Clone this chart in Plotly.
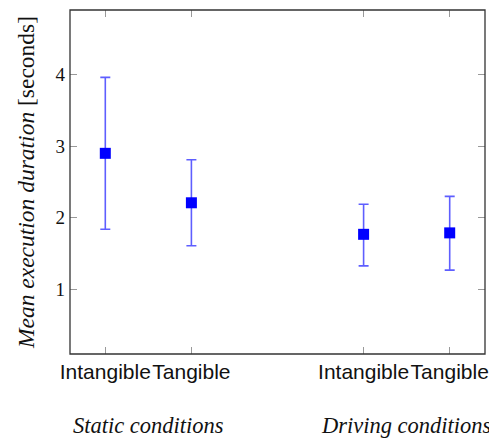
import plotly.graph_objects as go

positions = [1, 2, 4, 5]
tick_labels = ["Intangible", "Tangible", "Intangible", "Tangible"]
means = [2.90, 2.21, 1.77, 1.79]
upper = [3.96, 2.81, 2.19, 2.30]
lower = [1.84, 1.61, 1.33, 1.27]
group_labels = ["Static conditions", "Driving conditions"]
group_centers = [1.5, 4.5]

err_plus = [u - m for u, m in zip(upper, means)]
err_minus = [m - l for m, l in zip(means, lower)]

fig = go.Figure()
fig.add_trace(go.Scatter(
    x=positions, y=means, mode="markers",
    marker=dict(symbol="square", size=11, color="#0000ff"),
    error_y=dict(type="data", symmetric=False, array=err_plus, arrayminus=err_minus,
                 color="rgba(40,40,255,0.75)", thickness=1.6, width=5),
    showlegend=False,
))

for lbl, cx in zip(group_labels, group_centers):
    fig.add_annotation(x=cx, y=-0.209, xref="x", yref="paper", yanchor="middle",
                       text="<i>" + lbl + "</i>", showarrow=False,
                       font=dict(family="Liberation Serif", size=22.5, color="#111"))

fig.add_shape(type="rect", xref="paper", yref="paper", x0=0, x1=1, y0=0, y1=1,
              line=dict(color="#333", width=1.3), layer="above")

fig.update_layout(
    width=489, height=431,
    margin=dict(l=62, r=12, t=2, b=85),
    plot_bgcolor="white", paper_bgcolor="white",
    xaxis=dict(range=[0.59, 5.41], tickvals=positions, ticktext=tick_labels, tickangle=0,
               ticks="inside", ticklen=7, tickcolor="#999", mirror="allticks",
               showline=False, showgrid=False, zeroline=False,
               tickfont=dict(family="Liberation Sans", size=21, color="#111"),
               ticklabelstandoff=3),
    yaxis=dict(range=[0.1, 4.9], tickvals=[1, 2, 3, 4],
               ticks="inside", ticklen=7, tickcolor="#999", mirror="allticks",
               showline=False, showgrid=False, zeroline=False,
               tickfont=dict(family="Liberation Serif", size=19, color="#111"),
               ticklabelstandoff=4,
               title=dict(text="<i>Mean execution duration</i> [seconds]",
                          font=dict(family="Liberation Serif", size=23.5, color="#111"), standoff=14)),
)

fig.write_html("out.html")
